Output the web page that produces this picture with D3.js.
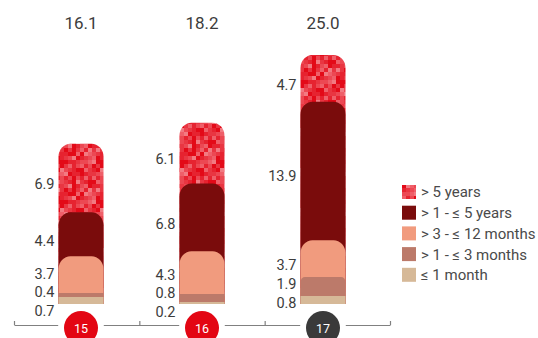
<!DOCTYPE html>
<html>
<head>
<meta charset="utf-8">
<script src="https://cdn.jsdelivr.net/npm/d3@7"></script>
<style>
  html, body { margin: 0; padding: 0; background: #fff; }
  svg { display: block; font-family: Roboto, "Liberation Sans", sans-serif; }
</style>
</head>
<body>
<svg id="chart" width="538" height="338"></svg>
<script>
// ---- data ----
const years = ["15", "16", "17"];
const totals = [16.1, 18.2, 25.0];
const seriesKeys = ["le1m", "m1to3", "m3to12", "y1to5", "gt5y"];
const seriesNames = ["≤ 1 month", "> 1 - ≤ 3 months", "> 3 - ≤ 12 months", "> 1 - ≤ 5 years", "> 5 years"];
const le1m   = [0.7, 0.2, 0.8];
const m1to3  = [0.4, 0.8, 1.9];
const m3to12 = [3.7, 4.3, 3.7];
const y1to5  = [4.4, 6.8, 13.9];
const gt5y   = [6.9, 6.1, 4.7];
const yearColors = ["#e30613", "#e30613", "#3a3a3a"];

const seriesValues = { le1m, m1to3, m3to12, y1to5, gt5y };
const colors = { le1m: "#d6b998", m1to3: "#bc7a6a", m3to12: "#f19b7e", y1to5: "#7a0c0c", gt5y: "url(#mosaic)" };

const table = years.map((yr, i) => {
  const row = { year: yr };
  seriesKeys.forEach(k => row[k] = seriesValues[k][i]);
  return row;
});

const svg = d3.select("#chart");
const defs = svg.append("defs");

// mosaic pattern (deterministic texture)
const cell = 4, nCells = 10;
const pat = defs.append("pattern").attr("id", "mosaic")
  .attr("patternUnits", "userSpaceOnUse")
  .attr("width", cell * nCells).attr("height", cell * nCells);
const tones = ["#e30a18", "#e62330", "#e93642", "#ec4853", "#ef5f69", "#f27a82"];
for (let i = 0; i < nCells; i++) {
  for (let j = 0; j < nCells; j++) {
    const h = ((i * 7 + 3) * (j * 11 + 5) + i * 13 + j * 17) % 23;
    let t;
    if (h < 5) t = 0; else if (h < 10) t = 1; else if (h < 14) t = 2; else if (h < 18) t = 3; else if (h < 21) t = 4; else t = 5;
    pat.append("rect").attr("x", i * cell).attr("y", j * cell)
      .attr("width", cell).attr("height", cell).attr("fill", tones[t]);
  }
}

// ---- scales ----
const xBar = d3.scalePoint().domain(years).range([81, 323]);
const y = d3.scaleLinear().domain([0, 25]).range([304, 55]);
const barW = 45;

const stack = d3.stack().keys(seriesKeys);
const stacked = stack(table);

function topRounded(x, yTop, w, yBot, rx, ry) {
  if (rx <= 0.5 || ry <= 0.5) {
    return `M${x},${yBot}V${yTop}H${x + w}V${yBot}Z`;
  }
  return `M${x},${yBot}V${yTop + ry}A${rx},${ry} 0 0 1 ${x + rx},${yTop}` +
         `H${x + w - rx}A${rx},${ry} 0 0 1 ${x + w},${yTop + ry}V${yBot}Z`;
}

const barsG = svg.append("g");
// draw from the top-most series down so lower segments overlap with rounded tops
for (let s = stacked.length - 1; s >= 0; s--) {
  const layer = stacked[s];
  barsG.selectAll(null).data(layer).enter().append("path")
    .attr("d", d => {
      const x0 = xBar(d.data.year) - barW / 2;
      const yt = y(d[1]), yb = y(0);
      const segH = y(d[0]) - y(d[1]);
      const r = Math.max(0, Math.min(12, (segH - 10) * 0.5));
      return topRounded(x0, yt, barW, yb, r, r * 1.08);
    })
    .attr("fill", colors[layer.key]);
}

// ---- value labels with simple collision resolution ----
const gap = 18.5;
years.forEach((yr, i) => {
  const items = stacked.map(layer => {
    const d = layer[i];
    const top = y(d[1]), bot = y(d[0]);
    const h = bot - top;
    return { v: d[1] - d[0], ideal: (top + bot) / 2 + (h > 25 ? Math.min(6, 600 / h) : 0) };
  }).sort((a, b) => a.ideal - b.ideal);
  const clusters = [];
  items.forEach(it => {
    clusters.push({ items: [it] });
    const place = c => {
      const n = c.items.length;
      const center = d3.mean(c.items, e => e.ideal);
      c.items.forEach((e, k) => e.pos = center + (k - (n - 1) / 2) * gap);
    };
    place(clusters[clusters.length - 1]);
    while (clusters.length > 1) {
      const a = clusters[clusters.length - 2], b = clusters[clusters.length - 1];
      const aLast = a.items[a.items.length - 1].pos, bFirst = b.items[0].pos;
      if (bFirst - aLast < gap) {
        clusters.pop();
        a.items = a.items.concat(b.items);
        place(a);
      } else break;
    }
  });
  const xr = xBar(yr) - barW / 2 - 4;
  svg.append("g").selectAll("text").data(items).enter().append("text")
    .attr("x", xr).attr("y", d => d.pos).attr("dy", "0.36em")
    .attr("text-anchor", "end")
    .attr("font-size", 14.5).attr("fill", "#3c3c3c")
    .text(d => d3.format(".1f")(d.v));
});

// totals
svg.append("g").selectAll("text").data(years).enter().append("text")
  .attr("x", d => xBar(d)).attr("y", 23).attr("dy", "0.36em")
  .attr("text-anchor", "middle").attr("font-size", 17).attr("fill", "#3c3c3c")
  .text((d, i) => d3.format(".1f")(totals[i]));

// ---- bottom axis ----
const xAxisScale = d3.scaleLinear().domain([0, years.length]).range([14, 390]);
const axisG = svg.append("g").attr("transform", "translate(0,325)")
  .call(d3.axisBottom(xAxisScale).tickValues(d3.range(years.length + 1))
    .tickSize(-4).tickSizeOuter(0).tickFormat(""));
axisG.selectAll("path, line").attr("stroke", "#808080").attr("stroke-width", 1.2);

const circG = svg.append("g");
circG.selectAll("circle.bg").data(years).enter().append("circle")
  .attr("cx", d => xBar(d)).attr("cy", 328).attr("r", 23).attr("fill", "#fff");
circG.selectAll("circle.fg").data(years).enter().append("circle")
  .attr("cx", d => xBar(d)).attr("cy", 328).attr("r", 17)
  .attr("fill", (d, i) => yearColors[i]);
circG.selectAll("text").data(years).enter().append("text")
  .attr("x", d => xBar(d)).attr("y", 328).attr("dy", "0.36em")
  .attr("text-anchor", "middle").attr("font-size", 12.5).attr("fill", "#fff")
  .text(d => d);

// ---- legend ----
const legendOrder = [4, 3, 2, 1, 0];
const lg = svg.append("g").attr("transform", "translate(402,192)");
const rows = lg.selectAll("g").data(legendOrder).enter().append("g")
  .attr("transform", (d, i) => `translate(0,${i * 20.7})`);
rows.append("rect").attr("x", 0).attr("y", -7).attr("width", 14).attr("height", 14)
  .attr("fill", d => colors[seriesKeys[d]]);
rows.append("text").attr("x", 19).attr("y", 0).attr("dy", "0.36em")
  .attr("font-size", 15).attr("fill", "#4a4a4a")
  .text(d => seriesNames[d]);
</script>
</body>
</html>
